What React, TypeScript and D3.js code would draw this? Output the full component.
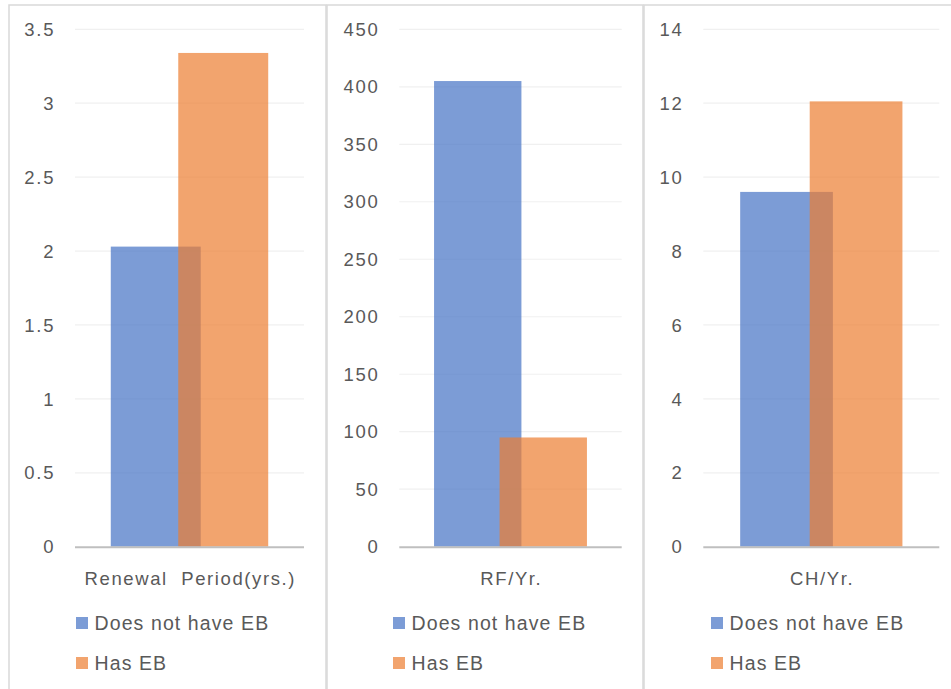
import React from "react";
import * as d3 from "d3";

// Data
const categories = ["Renewal  Period(yrs.)", "RF/Yr.", "CH/Yr."];
const seriesNames = ["Does not have EB", "Has EB"];
const doesNotHaveEB = [2.03, 405, 9.6];
const hasEB = [3.34, 95, 12.05];
const axisMax = [3.5, 450, 14];
const tickStep = [0.5, 50, 2];

const seriesColors = ["#4472C4", "#ED7D31"];
const FONT = "'Liberation Sans', Arial, sans-serif";
const TICK_SIZE = 18.5;
const TICK_SPACING = 1.7;
const CAT_SPACING = 1.6;
const LEGEND_SIZE = 19.5;
const LEGEND_SPACING = 1.1;

// Panel frames and plot areas
const panelFrames = [
  { x0: 9, x1: 326, plotL: 75, plotR: 304, legendX: 76 },
  { x0: 327, x1: 643, plotL: 399.3, plotR: 621.7, legendX: 393 },
  { x0: 644, x1: 960, plotL: 703.3, plotR: 939.3, legendX: 711 },
];
const plotTop = 29.3;
const plotBottom = 546.7;

const W = 951;
const H = 689;

function Panel({ i }: { i: number }) {
  const f = panelFrames[i];
  const values = [doesNotHaveEB[i], hasEB[i]];
  const y = d3.scaleLinear().domain([0, axisMax[i]]).range([plotBottom, plotTop]);
  const ticks = d3.range(0, axisMax[i] + tickStep[i] / 2, tickStep[i]);
  const x = d3
    .scaleBand<string>()
    .domain([categories[i]])
    .range([f.plotL, f.plotR])
    .paddingInner(0)
    .paddingOuter(0.2273);
  const band = x(categories[i]) as number;
  const overlap = 0.25;
  const barW = x.bandwidth() / (2 - overlap);
  const cx = band + x.bandwidth() / 2;

  return (
    <g>
      {/* frame */}
      <rect
        x={f.x0}
        y={5}
        width={f.x1 - f.x0}
        height={H + 10}
        fill="#fff"
        stroke="#D9D9D9"
        strokeWidth={1.5}
      />
      {/* gridlines */}
      {ticks.map((t) =>
        t === 0 ? null : (
          <line
            key={"g" + t}
            x1={f.plotL}
            x2={f.plotR}
            y1={y(t)}
            y2={y(t)}
            stroke="#F0F0F0"
            strokeWidth={1.2}
          />
        )
      )}
      {/* tick labels */}
      {ticks.map((t) => (
        <text
          key={"t" + t}
          x={f.plotL - 21.5 + TICK_SPACING}
          y={y(t)}
          dy="0.36em"
          textAnchor="end"
          fontFamily={FONT}
          fontSize={TICK_SIZE}
          letterSpacing={TICK_SPACING}
          fill="#595959"
        >
          {d3.format("~g")(t)}
        </text>
      ))}
      {/* bars */}
      {values.map((v, s) => (
        <rect
          key={"b" + s}
          x={band + s * barW * (1 - overlap)}
          y={y(v)}
          width={barW}
          height={y(0) - y(v)}
          fill={seriesColors[s]}
          fillOpacity={0.7}
        />
      ))}
      {/* baseline */}
      <line
        x1={f.plotL}
        x2={f.plotR}
        y1={y(0) + 0.5}
        y2={y(0) + 0.5}
        stroke="#BFBFBF"
        strokeWidth={2}
      />
      {/* category label */}
      <text
        x={cx + CAT_SPACING / 2}
        y={578}
        dy="0.36em"
        textAnchor="middle"
        fontFamily={FONT}
        fontSize={TICK_SIZE}
        letterSpacing={CAT_SPACING}
        fill="#595959"
        style={{ whiteSpace: "pre" }}
      >
        {categories[i]}
      </text>
      {/* legend */}
      {seriesNames.map((name, s) => (
        <g key={"l" + s} transform={`translate(${f.legendX},${623 + s * 40})`}>
          <rect x={0} y={-6} width={12} height={12} fill={seriesColors[s]} fillOpacity={0.7} />
          <text
            x={18.5}
            y={0}
            dy="0.36em"
            fontFamily={FONT}
            fontSize={LEGEND_SIZE}
            letterSpacing={LEGEND_SPACING}
            fill="#595959"
          >
            {name}
          </text>
        </g>
      ))}
    </g>
  );
}

export default function App() {
  return (
    <svg
      width={W}
      height={H}
      style={{ position: "absolute", left: 0, top: 0, background: "#fff" }}
    >
      <rect width={W} height={H} fill="#fff" />
      {panelFrames.map((_, i) => (
        <Panel key={i} i={i} />
      ))}
    </svg>
  );
}
